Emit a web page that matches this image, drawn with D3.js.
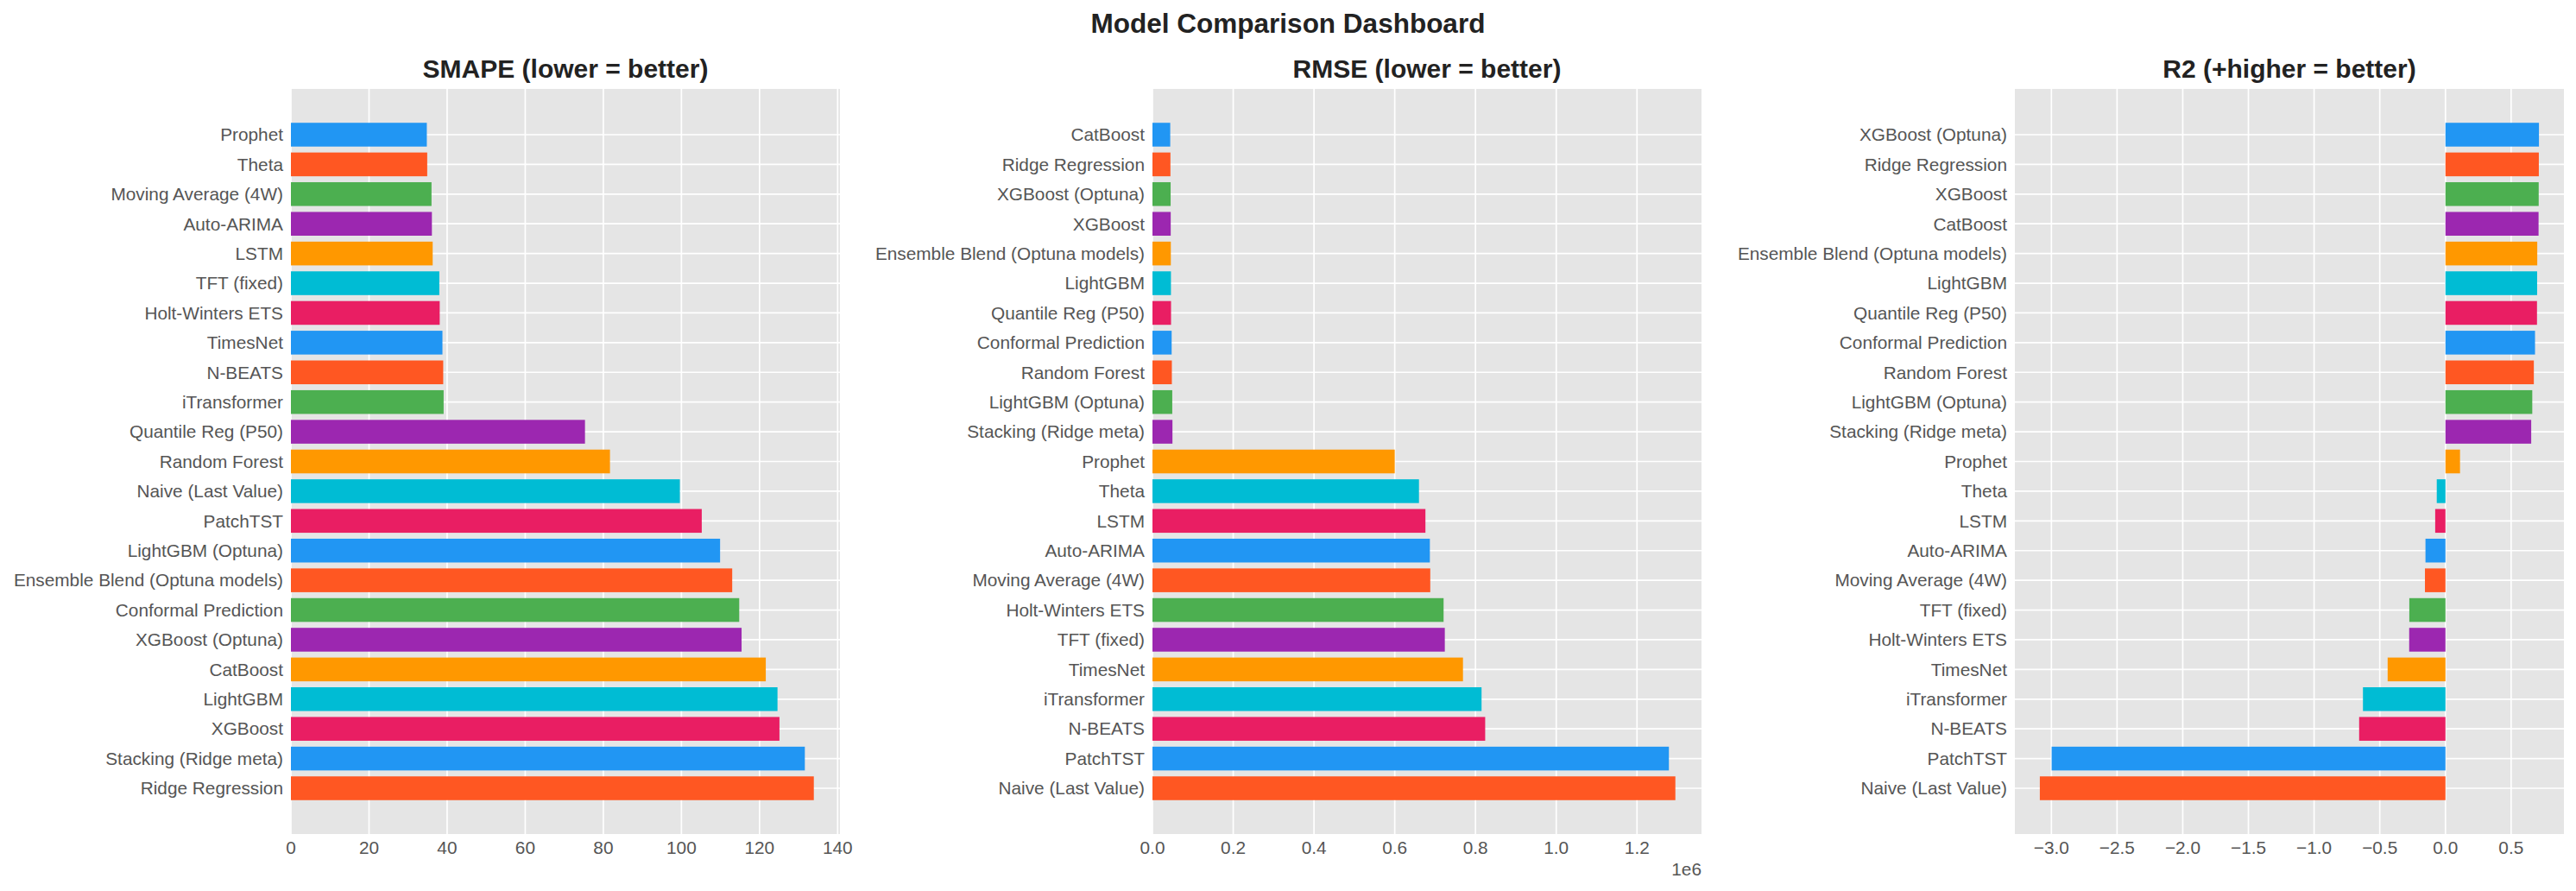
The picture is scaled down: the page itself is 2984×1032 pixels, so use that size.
<!DOCTYPE html>
<html>
<head>
<meta charset="utf-8">
<script src="https://cdn.jsdelivr.net/npm/d3@7"></script>
<style>
  body { margin: 0; background: #fff; }
  text { font-family: "Liberation Sans", Arial, sans-serif; }
</style>
</head>
<body>
<div id="chart"></div>
<script>
// colour cycle used by every panel
const palette = ["#2196F3", "#FF5722", "#4CAF50", "#9C27B0", "#FF9800", "#00BCD4", "#E91E63"];

// SMAPE (top to bottom)
const smapeModels = ["Prophet", "Theta", "Moving Average (4W)", "Auto-ARIMA", "LSTM", "TFT (fixed)",
  "Holt-Winters ETS", "TimesNet", "N-BEATS", "iTransformer", "Quantile Reg (P50)", "Random Forest",
  "Naive (Last Value)", "PatchTST", "LightGBM (Optuna)", "Ensemble Blend (Optuna models)",
  "Conformal Prediction", "XGBoost (Optuna)", "CatBoost", "LightGBM", "XGBoost",
  "Stacking (Ridge meta)", "Ridge Regression"];
const smapeValues = [34.8, 34.9, 36.0, 36.1, 36.3, 38.0, 38.1, 38.8, 39.0, 39.1, 75.3, 81.7,
  99.6, 105.2, 109.9, 113.0, 114.8, 115.4, 121.6, 124.6, 125.1, 131.6, 133.9];
const smapeTicks = [0, 20, 40, 60, 80, 100, 120, 140];

// RMSE (top to bottom)
const rmseModels = ["CatBoost", "Ridge Regression", "XGBoost (Optuna)", "XGBoost",
  "Ensemble Blend (Optuna models)", "LightGBM", "Quantile Reg (P50)", "Conformal Prediction",
  "Random Forest", "LightGBM (Optuna)", "Stacking (Ridge meta)", "Prophet", "Theta", "LSTM",
  "Auto-ARIMA", "Moving Average (4W)", "Holt-Winters ETS", "TFT (fixed)", "TimesNet",
  "iTransformer", "N-BEATS", "PatchTST", "Naive (Last Value)"];
const rmseValues = [44000, 44500, 45000, 45200, 45500, 45800, 46000, 47500, 48000, 49000, 49500,
  600000, 660000, 676000, 687000, 688000, 721000, 724000, 769000, 815000, 824000, 1279000, 1295000];
const rmseTicks = [0, 200000, 400000, 600000, 800000, 1000000, 1200000];

// R2 (top to bottom)
const r2Models = ["XGBoost (Optuna)", "Ridge Regression", "XGBoost", "CatBoost",
  "Ensemble Blend (Optuna models)", "LightGBM", "Quantile Reg (P50)", "Conformal Prediction",
  "Random Forest", "LightGBM (Optuna)", "Stacking (Ridge meta)", "Prophet", "Theta", "LSTM",
  "Auto-ARIMA", "Moving Average (4W)", "TFT (fixed)", "Holt-Winters ETS", "TimesNet",
  "iTransformer", "N-BEATS", "PatchTST", "Naive (Last Value)"];
const r2Values = [0.712, 0.711, 0.710, 0.709, 0.699, 0.698, 0.697, 0.682, 0.673, 0.661, 0.653,
  0.111, -0.066, -0.078, -0.152, -0.156, -0.275, -0.276, -0.44, -0.628, -0.657, -2.998, -3.088];
const r2Ticks = [-3.0, -2.5, -2.0, -1.5, -1.0, -0.5, 0.0, 0.5];

const W = 2984, H = 1032;
const plotTop = 103, plotBottom = 966, panelW = 636;

const svg = d3.select("#chart").append("svg")
  .attr("width", W).attr("height", H);

svg.append("text")
  .attr("x", W / 2).attr("y", 38)
  .attr("text-anchor", "middle")
  .style("font-size", "31.5px").style("font-weight", "bold").style("fill", "#222")
  .text("Model Comparison Dashboard");

const minus = s => s.replace("-", "\u2212");

function panel(left, title, models, values, ticks, tickFmt, offsetText) {
  const g = svg.append("g");

  // matplotlib-style auto limits: 5% margin, bars stick to 0
  const lo = d3.min(values), hi = d3.max(values);
  const span = Math.max(hi, 0) - Math.min(lo, 0);
  const x = d3.scaleLinear()
    .domain([lo < 0 ? lo - span * 0.05 : 0, hi > 0 ? hi + span * 0.05 : 0])
    .range([left, left + panelW]);

  const y = d3.scaleBand()
    .domain(models)
    .range([plotTop, plotBottom])
    .paddingInner(0.2)
    .paddingOuter(1.14);

  g.append("rect")
    .attr("x", left).attr("y", plotTop)
    .attr("width", panelW).attr("height", plotBottom - plotTop)
    .attr("fill", "#E5E5E5");

  // grid
  g.selectAll("line.vg").data(ticks).join("line")
    .attr("x1", d => x(d)).attr("x2", d => x(d))
    .attr("y1", plotTop).attr("y2", plotBottom)
    .attr("stroke", "#fff").attr("stroke-width", 1.7);
  g.selectAll("line.hg").data(models).join("line")
    .attr("x1", left).attr("x2", left + panelW)
    .attr("y1", d => y(d) + y.bandwidth() / 2).attr("y2", d => y(d) + y.bandwidth() / 2)
    .attr("stroke", "#fff").attr("stroke-width", 1.7);

  // bars
  g.selectAll("rect.bar").data(values).join("rect")
    .attr("class", "bar")
    .attr("x", d => x(Math.min(0, d)))
    .attr("width", d => Math.abs(x(d) - x(0)))
    .attr("y", (d, i) => y(models[i]))
    .attr("height", y.bandwidth())
    .attr("fill", (d, i) => palette[i % palette.length]);

  // y labels
  g.selectAll("text.yl").data(models).join("text")
    .attr("x", left - 9)
    .attr("y", d => y(d) + y.bandwidth() / 2)
    .attr("dy", "0.35em")
    .attr("text-anchor", "end")
    .style("font-size", "20.8px").style("fill", "#555")
    .text(d => d);

  // x tick labels
  g.selectAll("text.xl").data(ticks).join("text")
    .attr("x", d => x(d))
    .attr("y", 989)
    .attr("text-anchor", "middle")
    .style("font-size", "20.8px").style("fill", "#555")
    .text(tickFmt);

  if (offsetText) {
    g.append("text")
      .attr("x", left + panelW).attr("y", 1014)
      .attr("text-anchor", "end")
      .style("font-size", "20.8px").style("fill", "#555")
      .text(offsetText);
  }

  g.append("text")
    .attr("x", left + panelW / 2).attr("y", 90)
    .attr("text-anchor", "middle")
    .style("font-size", "30px").style("font-weight", "bold").style("fill", "#222")
    .text(title);
}

panel(337, "SMAPE (lower = better)", smapeModels, smapeValues, smapeTicks, d => d3.format("d")(d));
panel(1335, "RMSE (lower = better)", rmseModels, rmseValues, rmseTicks, d => d3.format(".1f")(d / 1e6), "1e6");
panel(2334, "R2 (+higher = better)", r2Models, r2Values, r2Ticks, d => minus(d3.format(".1f")(d)));
</script>
</body>
</html>
